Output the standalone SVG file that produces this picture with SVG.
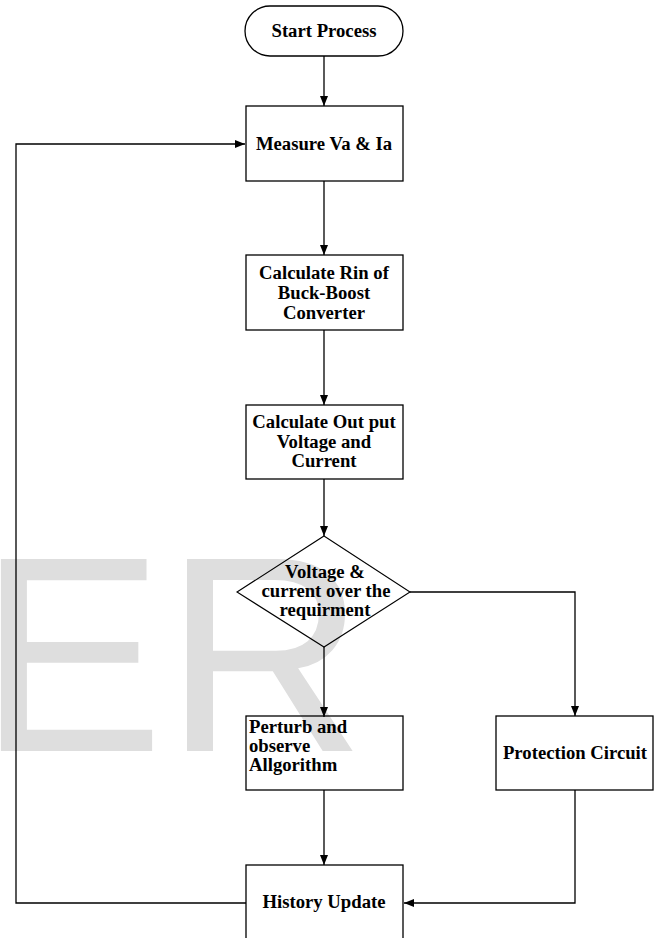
<svg xmlns="http://www.w3.org/2000/svg" width="664" height="938" viewBox="0 0 664 938">
<defs>
<style>
.wm{font-family:"Liberation Sans",Arial,sans-serif;font-size:279px;fill:#dedede}
.box{fill:none;stroke:#000;stroke-width:1.3}
.dia{fill:none;stroke:#000;stroke-width:1.1}
.t{font-family:"Liberation Serif","Times New Roman",serif;font-weight:bold;font-size:18.7px;fill:#000}
.c{text-anchor:middle}
.ln{fill:none;stroke:#000;stroke-width:1.3}
</style>
<marker id="ah" markerWidth="10" markerHeight="8" refX="10" refY="4" orient="auto" markerUnits="userSpaceOnUse">
<path d="M0,0 L10,4 L0,8 Z" fill="#000"/>
</marker>
</defs>
<rect width="664" height="938" fill="#fff"/>
<text class="wm" x="-22" y="751">ER</text>
<g id="connectors">
<line class="ln" x1="324" y1="56" x2="324" y2="106" marker-end="url(#ah)"/>
<line class="ln" x1="324" y1="181" x2="324" y2="255" marker-end="url(#ah)"/>
<line class="ln" x1="324" y1="330" x2="324" y2="405" marker-end="url(#ah)"/>
<line class="ln" x1="324" y1="479" x2="324" y2="536" marker-end="url(#ah)"/>
<line class="ln" x1="324" y1="647" x2="324" y2="717" marker-end="url(#ah)"/>
<polyline class="ln" points="410,592 575,592 575,716" marker-end="url(#ah)"/>
<line class="ln" x1="324" y1="790" x2="324" y2="865" marker-end="url(#ah)"/>
<polyline class="ln" points="575,790 575,903 404,903" marker-end="url(#ah)"/>
<polyline class="ln" points="246,903 16,903 16,144 245,144" marker-end="url(#ah)"/>
</g>
<g id="start">
<rect class="box" x="245" y="6" width="158" height="50" rx="25" ry="25"/>
<text class="t c" x="324" y="37">Start Process</text>
</g>
<g id="measure">
<rect class="box" x="246" y="106" width="157" height="75"/>
<text class="t c" x="324" y="150">Measure Va &amp; Ia</text>
</g>
<g id="calcRin">
<rect class="box" x="246" y="255" width="157" height="75"/>
<text class="t c" x="324" y="279">Calculate Rin of</text>
<text class="t c" x="324" y="299">Buck-Boost</text>
<text class="t c" x="324" y="319">Converter</text>
</g>
<g id="calcOut">
<rect class="box" x="246" y="405" width="157" height="74"/>
<text class="t c" x="324" y="428">Calculate Out put</text>
<text class="t c" x="324" y="448">Voltage and</text>
<text class="t c" x="324" y="467">Current</text>
</g>
<g id="decision">
<polygon class="dia" points="324,536 410,592 324,647 237,592"/>
<text class="t c" x="325" y="578">Voltage &amp;</text>
<text class="t c" x="326" y="597">current over the</text>
<text class="t c" x="325" y="616">requirment</text>
</g>
<g id="perturb">
<rect class="box" x="246" y="716" width="157" height="74"/>
<text class="t" x="249" y="733">Perturb and</text>
<text class="t" x="249" y="752">observe</text>
<text class="t" x="249" y="771">Allgorithm</text>
</g>
<g id="protection">
<rect class="box" x="496" y="716" width="157" height="74"/>
<text class="t c" x="575" y="759">Protection Circuit</text>
</g>
<g id="history">
<rect class="box" x="246" y="865" width="157" height="76"/>
<text class="t c" x="324" y="908">History Update</text>
</g>
</svg>
